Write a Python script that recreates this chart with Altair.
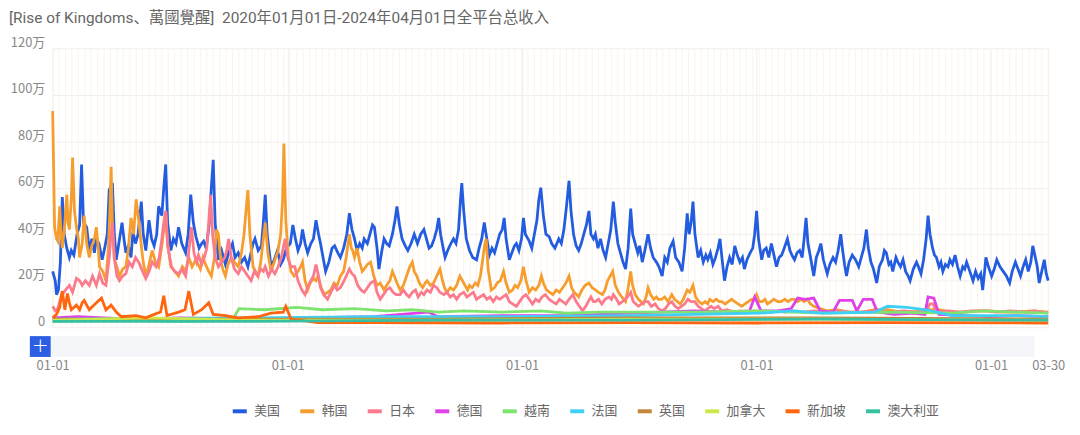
import altair as alt
import pandas as pd

FONT = "Noto Sans CJK SC"
TITLE_FONT = "Roboto, 'Noto Sans CJK SC'"

countries = ["美国", "韩国", "日本", "德国", "越南", "法国", "英国", "加拿大", "新加坡", "澳大利亚"]
colors = ["#245ce0", "#f59e2f", "#fb7a8c", "#e040e8", "#7fe36f",
          "#3fd0f5", "#c4843a", "#cbe84b", "#ff640e", "#36bfa0"]

# day offsets from 2020-01-01 and daily revenue in 万
us_days = [0, 4, 6, 9, 12, 15, 18, 22, 26, 29, 33, 38, 42, 45, 48, 53, 57, 61, 65, 68,
           72, 77, 81, 85, 88, 93, 96, 99, 103, 108, 111, 114, 118, 122, 125, 129, 133, 138, 141, 145,
           150, 154, 158, 162, 165, 170, 173, 176, 179, 184, 188, 192, 196, 201, 207, 211, 215, 219, 223, 228,
           232, 235, 239, 244, 247, 250, 253, 258, 263, 269, 274, 280, 284, 289, 294, 299, 304, 308, 312, 315,
           320, 325, 328, 331, 334, 340, 345, 350, 355, 359, 364, 370, 374, 378, 382, 386, 389, 393, 397, 402,
           406, 410, 414, 417, 421, 425, 430, 435, 439, 444, 448, 453, 458, 462, 466, 470, 474, 478, 482, 485,
           490, 494, 498, 501, 505, 508, 512, 516, 520, 524, 529, 533, 536, 540, 544, 549, 553, 558, 563, 568,
           573, 578, 582, 586, 590, 594, 598, 601, 604, 608, 611, 615, 620, 624, 628, 632, 635, 637, 640, 644,
           649, 654, 660, 664, 668, 672, 676, 680, 684, 688, 692, 696, 700, 703, 706, 711, 715, 719, 722, 726,
           730, 733, 736, 742, 746, 750, 754, 757, 760, 764, 768, 773, 777, 782, 788, 792, 796, 800, 804, 807,
           811, 815, 819, 823, 827, 831, 835, 838, 842, 845, 849, 853, 857, 861, 865, 869, 873, 876, 880, 884,
           888, 892, 896, 900, 903, 907, 911, 914, 918, 922, 927, 931, 935, 940, 944, 949, 953, 957, 961, 966,
           970, 975, 980, 984, 988, 991, 994, 997, 1000, 1005, 1009, 1013, 1017, 1020, 1024, 1028, 1032, 1036, 1039, 1042,
           1046, 1050, 1054, 1058, 1062, 1066, 1070, 1074, 1077, 1081, 1086, 1090, 1093, 1096, 1099, 1104, 1107, 1111, 1115, 1119,
           1123, 1127, 1131, 1135, 1139, 1144, 1148, 1151, 1155, 1159, 1163, 1167, 1170, 1173, 1176, 1180, 1185, 1189, 1193, 1196,
           1200, 1203, 1206, 1210, 1215, 1219, 1223, 1227, 1230, 1233, 1236, 1240, 1245, 1250, 1255, 1259, 1263, 1267, 1270, 1274,
           1278, 1283, 1287, 1292, 1295, 1298, 1302, 1305, 1308, 1313, 1316, 1320, 1324, 1328, 1332, 1335, 1340, 1345, 1348, 1352,
           1356, 1360, 1363, 1366, 1370, 1373, 1376, 1380, 1383, 1386, 1390, 1394, 1397, 1401, 1405, 1409, 1413, 1417, 1420, 1423,
           1428, 1433, 1437, 1441, 1445, 1448, 1451, 1453, 1457, 1462, 1466, 1470, 1475, 1480, 1485, 1490, 1494, 1499, 1503, 1507,
           1511, 1515, 1519, 1523, 1526, 1530, 1533, 1536, 1540, 1544, 1547, 1550]
us_vals = [24, 20, 14, 16, 28, 56, 40, 34, 30, 33, 31, 40, 44, 70, 45, 43, 33, 38, 32, 38,
           36, 29, 34, 40, 59, 62, 40, 29, 36, 45, 38, 32, 35, 30, 41, 36, 40, 54, 40, 33,
           46, 38, 35, 40, 52, 48, 60, 70, 45, 33, 38, 36, 43, 36, 32, 40, 57, 45, 39, 34,
           36, 37, 34, 45, 60, 72, 45, 29, 33, 27, 32, 36, 30, 32, 28, 30, 26, 31, 36, 38,
           33, 35, 45, 57, 40, 26, 29, 33, 27, 29, 34, 36, 44, 38, 33, 36, 42, 36, 32, 36,
           38, 46, 40, 36, 30, 24, 28, 34, 35, 32, 30, 34, 40, 49, 42, 38, 33, 36, 34, 38,
           36, 40, 44, 43, 34, 25, 32, 38, 36, 35, 40, 46, 52, 44, 38, 35, 33, 36, 40, 36,
           40, 42, 38, 34, 35, 38, 42, 47, 40, 34, 30, 33, 36, 38, 36, 42, 55, 62, 50, 38,
           33, 30, 29, 34, 38, 45, 38, 31, 34, 32, 36, 40, 42, 47, 38, 29, 32, 35, 36, 33,
           38, 47, 40, 37, 34, 40, 46, 55, 60, 48, 40, 39, 36, 34, 38, 36, 42, 52, 63, 50,
           40, 35, 33, 36, 40, 44, 50, 40, 38, 40, 34, 38, 33, 30, 36, 42, 54, 45, 36, 32,
           28, 25, 34, 51, 40, 36, 32, 35, 28, 33, 40, 34, 30, 28, 26, 22, 30, 28, 34, 37,
           30, 28, 24, 34, 49, 40, 45, 54, 40, 30, 33, 28, 31, 29, 32, 27, 30, 34, 38, 30,
           20, 26, 30, 27, 35, 31, 28, 30, 25, 29, 32, 34, 40, 50, 38, 29, 33, 34, 30, 36,
           31, 26, 30, 31, 34, 38, 33, 31, 29, 32, 33, 30, 38, 47, 36, 30, 22, 30, 33, 36,
           29, 26, 23, 27, 30, 28, 33, 40, 33, 27, 22, 28, 31, 29, 26, 30, 34, 42, 34, 28,
           25, 19, 26, 29, 33, 32, 27, 28, 24, 30, 28, 26, 29, 24, 22, 20, 25, 28, 26, 23,
           29, 38, 48, 40, 34, 31, 30, 26, 28, 24, 27, 26, 29, 27, 31, 26, 22, 26, 25, 28,
           24, 20, 24, 21, 23, 16, 24, 30, 26, 22, 25, 29, 26, 24, 22, 19, 24, 28, 25, 22,
           26, 29, 24, 28, 35, 30, 26, 19, 24, 29, 23, 20]

kr_days = [0, 3, 6, 8, 11, 13, 15, 19, 22, 24, 26, 29, 31, 34, 37, 40, 42, 46, 49, 53,
           57, 61, 65, 68, 71, 73, 78, 83, 87, 89, 91, 93, 96, 100, 104, 109, 114, 118, 122, 126,
           130, 134, 138, 141, 145, 150, 155, 160, 165, 170, 173, 176, 179, 184, 190, 196, 202, 207, 212, 217,
           223, 230, 234, 238, 243, 247, 252, 255, 258, 262, 266, 269, 273, 278, 283, 289, 294, 298, 301, 304,
           307, 312, 316, 320, 324, 328, 331, 335, 340, 345, 351, 355, 358, 360, 363, 367, 371, 376, 382, 386,
           389, 393, 397, 401, 406, 410, 413, 418, 423, 428, 433, 438, 443, 448, 453, 457, 460, 462, 465, 467,
           470, 474, 478, 482, 485, 490, 495, 500, 505, 510, 516, 520, 525, 529, 532, 536, 541, 546, 551, 556,
           560, 563, 567, 571, 576, 580, 583, 588, 593, 598, 603, 607, 610, 614, 619, 624, 629, 634, 638, 642,
           646, 649, 653, 658, 662, 666, 670, 673, 675, 678, 683, 688, 692, 697, 702, 706, 711, 716, 720, 724,
           729, 733, 737, 742, 747, 752, 757, 761, 764, 769, 774, 779, 784, 789, 794, 799, 804, 808, 812, 816,
           819, 824, 829, 835, 840, 845, 850, 856, 860, 864, 868, 872, 876, 881, 886, 892, 896, 900, 903, 907,
           912, 916, 920, 924, 927, 931, 936, 940, 943, 948, 953, 958, 964, 968, 973, 977, 982, 985, 988, 992,
           997, 1001, 1006, 1011, 1016, 1020, 1023, 1028, 1033, 1038, 1042, 1047, 1052, 1057, 1062, 1067, 1073, 1078, 1083, 1088,
           1092, 1096, 1100, 1105, 1109, 1113, 1118, 1123, 1129, 1134, 1140, 1145, 1150, 1155, 1160, 1165, 1170, 1175, 1180, 1185,
           1195, 1205, 1220, 1240, 1260, 1280, 1300, 1320, 1340, 1360, 1380, 1400, 1420, 1440, 1460, 1480, 1500, 1525, 1550]
kr_vals = [93, 43, 38, 37, 52, 40, 34, 45, 57, 45, 42, 55, 73, 50, 43, 38, 30, 36, 48, 36,
           30, 35, 38, 43, 34, 26, 24, 20, 35, 50, 69, 45, 29, 26, 22, 25, 26, 34, 47, 40,
           55, 46, 35, 28, 22, 27, 33, 28, 26, 35, 42, 50, 36, 26, 24, 22, 26, 24, 30, 26,
           29, 25, 30, 27, 24, 22, 30, 42, 40, 28, 24, 22, 27, 30, 28, 26, 32, 40, 50, 59,
           40, 26, 24, 22, 28, 38, 45, 32, 24, 28, 33, 40, 55, 79, 46, 30, 24, 22, 24, 26,
           28, 20, 16, 19, 21, 20, 22, 17, 14, 15, 16, 19, 18, 22, 24, 30, 36, 40, 34, 33,
           30, 34, 28, 24, 25, 27, 28, 22, 18, 19, 16, 18, 20, 24, 22, 19, 16, 18, 22, 26,
           28, 24, 22, 19, 17, 19, 20, 18, 19, 22, 25, 20, 17, 15, 17, 16, 18, 22, 20, 18,
           16, 18, 17, 19, 18, 22, 30, 36, 38, 25, 16, 17, 19, 20, 24, 19, 15, 16, 18, 17,
           20, 26, 20, 15, 17, 16, 18, 22, 19, 16, 15, 14, 16, 15, 17, 19, 22, 17, 15, 14,
           13, 16, 18, 19, 17, 16, 15, 14, 16, 20, 22, 24, 18, 15, 13, 11, 17, 24, 18, 14,
           12, 11, 10, 13, 17, 14, 12, 13, 12, 12, 13, 11, 14, 12, 11, 10, 12, 14, 16, 15,
           18, 13, 11, 10, 11, 10, 12, 11, 12, 11, 11, 10, 11, 12, 11, 10, 9, 10, 11, 12,
           12, 14, 11, 11, 12, 10, 11, 12, 11, 11, 12, 11, 12, 12, 11, 12, 11, 12, 10, 9,
           8, 7, 7.5, 6.5, 6.5, 7.5, 7.5, 6.5, 6.5, 7.5, 7.5, 6.5, 6.5, 7, 7, 6.5, 6.5, 7, 6.5]

jp_days = [0, 4, 8, 12, 15, 20, 26, 31, 37, 42, 46, 51, 57, 62, 68, 73, 78, 83, 88, 91,
           93, 96, 100, 104, 109, 114, 119, 124, 129, 134, 140, 145, 150, 155, 161, 166, 170, 173, 176, 179,
           185, 190, 196, 201, 207, 211, 214, 216, 220, 224, 227, 232, 236, 240, 243, 246, 249, 253, 258, 263,
           268, 271, 274, 278, 283, 289, 294, 299, 304, 309, 314, 319, 324, 328, 331, 336, 341, 346, 351, 356,
           359, 362, 366, 371, 377, 382, 388, 393, 398, 402, 406, 410, 414, 417, 422, 428, 433, 439, 443, 448,
           452, 457, 462, 466, 470, 475, 480, 485, 490, 495, 501, 505, 510, 515, 520, 525, 530, 535, 541, 546,
           551, 555, 560, 565, 569, 574, 578, 583, 588, 593, 598, 603, 609, 614, 619, 624, 629, 634, 640, 645,
           650, 655, 660, 665, 671, 676, 681, 686, 691, 696, 701, 706, 711, 716, 722, 727, 732, 737, 742, 747,
           752, 757, 762, 767, 773, 778, 784, 789, 794, 799, 804, 810, 815, 820, 825, 830, 834, 838, 842, 845,
           850, 855, 860, 866, 870, 873, 878, 882, 887, 891, 895, 900, 904, 908, 912, 917, 922, 927, 932, 938,
           943, 949, 954, 959, 964, 969, 974, 979, 984, 989, 994, 1000, 1005, 1010, 1015, 1020, 1025, 1030, 1036, 1042,
           1050, 1062, 1070, 1080, 1093, 1105, 1119, 1130, 1140, 1155, 1170, 1185, 1206, 1225, 1240, 1258, 1275, 1290, 1309, 1325,
           1345, 1360, 1366, 1371, 1376, 1395, 1413, 1430, 1453, 1470, 1490, 1515, 1530, 1550]
jp_vals = [9, 7, 8, 12, 14, 16, 18, 15, 21, 20, 18, 20, 18, 22, 18, 23, 19, 18, 30, 40,
           45, 30, 22, 20, 22, 23, 28, 26, 30, 28, 24, 21, 24, 28, 26, 30, 38, 45, 50, 35,
           26, 24, 23, 25, 22, 30, 38, 43, 32, 28, 31, 27, 30, 34, 45, 57, 40, 30, 26, 28,
           30, 33, 38, 30, 25, 23, 26, 24, 22, 20, 24, 22, 25, 24, 26, 22, 25, 23, 26, 30,
           34, 38, 30, 26, 26, 20, 16, 14, 18, 20, 22, 27, 22, 17, 14, 12, 15, 18, 16, 17,
           19, 22, 25, 23, 22, 18, 16, 15, 17, 19, 20, 15, 12, 14, 16, 17, 15, 14, 14, 16,
           14, 13, 15, 16, 13, 15, 14, 16, 15, 18, 17, 15, 14, 15, 13, 14, 12, 14, 15, 13,
           14, 15, 12, 13, 14, 12, 13, 11, 13, 12, 13, 14, 11, 10, 9, 11, 13, 14, 12, 10,
           12, 11, 13, 14, 12, 11, 10, 12, 11, 10, 12, 14, 11, 9, 7, 9, 11, 13, 11, 11,
           12, 10, 12, 13, 12, 14, 12, 10, 11, 12, 13, 15, 11, 10, 9, 10, 11, 11, 9, 10,
           8, 7, 8, 10, 11, 9, 8, 9, 10, 12, 11, 11, 9, 8, 7, 8, 9, 8, 9, 7,
           7.5, 6.5, 7, 6.5, 7, 6.5, 6.5, 7, 6.5, 7, 6.5, 7, 6.5, 7, 6.5, 6.5, 7, 6.5, 6.5, 7,
           6.5, 7, 10, 10, 6.5, 7, 6.5, 7, 7, 6.5, 7, 6.5, 7, 6]

de_days = [0, 40, 120, 200, 300, 400, 500, 585, 600, 700, 800, 900, 1000, 1050, 1085, 1093, 1103, 1130, 1150, 1160,
           1172, 1185, 1195, 1215, 1225, 1245, 1252, 1262, 1276, 1284, 1310, 1340, 1358, 1363, 1372, 1380, 1420, 1460, 1500, 1550]
de_vals = [4, 4.5, 3.5, 4, 3.5, 4, 4.5, 6.5, 4.5, 5, 5, 6, 7, 6.5, 7, 13, 7, 7, 8, 12.5,
           12, 12.5, 7, 6.5, 11.5, 11.5, 7, 12, 12, 6.5, 5.5, 6, 5.5, 13, 12.5, 5.5, 5, 4.5, 5, 4.5]

vn_days = [0, 100, 200, 280, 290, 330, 380, 420, 470, 520, 560, 600, 640, 700, 760, 800, 850, 900, 1000, 1100,
           1200, 1300, 1400, 1450, 1500, 1550]
vn_vals = [2.5, 3, 2.5, 3, 8, 7.5, 8.5, 7.5, 8, 7, 7.5, 6.5, 7, 6.5, 7, 6, 6.5, 6.5, 6.5, 7,
           6, 6.5, 6, 7, 6.5, 6]

fr_days = [0, 300, 500, 700, 900, 1000, 1100, 1150, 1200, 1280, 1300, 1330, 1360, 1400, 1500, 1550]
fr_vals = [3.5, 4, 4.5, 4.5, 5, 5.5, 6, 7, 6, 6.5, 9, 8.5, 7.5, 5, 5, 4.5]

gb_days = [0, 300, 600, 900, 1200, 1550]
gb_vals = [3.5, 3.5, 3.5, 4, 4, 3.5]

ca_days = [0, 150, 300, 600, 900, 1200, 1550]
ca_vals = [3, 4, 3, 3, 3.5, 3.5, 3]

sg_days = [0, 6, 11, 14, 15, 19, 23, 26, 29, 37, 42, 46, 49, 57, 68, 76, 83, 91, 99, 107,
           130, 145, 158, 168, 173, 178, 196, 206, 212, 219, 232, 243, 250, 269, 289, 320, 340, 359, 363, 371,
           413, 500, 700, 900, 1100, 1300, 1550]
sg_vals = [4, 5.5, 8.5, 14.5, 15.5, 7.5, 14.5, 10.5, 7.5, 9.5, 7.5, 10.5, 11.5, 7.5, 10.5, 12.5, 7.5, 9.5, 6.5, 4.5,
           5, 4, 5.5, 6.5, 13.5, 5, 6.5, 7.5, 15.5, 5.5, 7.5, 10.5, 5.5, 5, 4, 4.5, 6, 6.5, 9, 3.5,
           2, 2, 1.8, 2, 1.8, 2, 1.8]

au_days = [0, 300, 600, 900, 1200, 1550]
au_vals = [2.5, 2.5, 3, 3, 3.5, 3]

y_ticks = [0, 20, 40, 60, 80, 100, 120]
title_text = "[Rise of Kingdoms、萬國覺醒]\u00a0\u00a02020年01月01日-2024年04月01日全平台总收入"

start = pd.Timestamp("2020-01-01")
series = [
    ("美国", us_days, us_vals), ("韩国", kr_days, kr_vals), ("日本", jp_days, jp_vals),
    ("德国", de_days, de_vals), ("越南", vn_days, vn_vals), ("法国", fr_days, fr_vals),
    ("英国", gb_days, gb_vals), ("加拿大", ca_days, ca_vals), ("新加坡", sg_days, sg_vals),
    ("澳大利亚", au_days, au_vals),
]
frames = []
for i, (name, days, vals) in enumerate(series):
    frames.append(pd.DataFrame({
        "country": name,
        "idx": i,
        "date": [(start + pd.Timedelta(days=d)).strftime("%Y-%m-%d") for d in days],
        "value": vals,
    }))
df = pd.concat(frames, ignore_index=True)

stripe_df = pd.DataFrame({"date": pd.date_range("2020-01-01", "2024-03-30", freq="10D").strftime("%Y-%m-%d")})
one = pd.DataFrame({"a": [0]})

x_domain = [alt.DateTime(year=2020, month=1, date=1, utc=True),
            alt.DateTime(year=2024, month=3, date=30, utc=True)]
x_values = [alt.DateTime(year=y, month=1, date=1, utc=True) for y in [2020, 2021, 2022, 2023, 2024]] + \
           [alt.DateTime(year=2024, month=3, date=30, utc=True)]

x_scale = alt.Scale(type="utc", domain=x_domain)
x_axis = alt.Axis(values=x_values, format="%m-%d", labelFlush=False, grid=True, gridColor="#eeeeee",
                  domain=False, ticks=False, labelPadding=33, labelColor="#888888", labelFontSize=13,
                  labelFont=FONT, title=None)

stripes = alt.Chart(stripe_df).mark_rule(color="#fdf4e6", strokeWidth=1).encode(
    x=alt.X("date:T", scale=x_scale, axis=x_axis)
)

lines = alt.Chart(df).mark_line(strokeWidth=2.8, interpolate="linear").encode(
    x=alt.X("date:T", scale=x_scale, axis=x_axis),
    y=alt.Y("value:Q", scale=alt.Scale(domain=[0, 120], nice=False),
            axis=alt.Axis(values=y_ticks, labelExpr="datum.value == 0 ? '0' : datum.value + '万'",
                          grid=True, gridColor="#eeeeee", domain=False, ticks=False,
                          labelPadding=8, labelBaseline="bottom", labelOffset=1, labelColor="#888888",
                          labelFontSize=13, labelFont=FONT, title=None)),
    color=alt.Color("country:N", scale=alt.Scale(domain=countries, range=colors),
                    legend=alt.Legend(orient="none", legendX=179, legendY=356, direction="horizontal",
                                      title=None, symbolType="stroke", symbolStrokeWidth=4,
                                      symbolSize=200, labelFontSize=13, labelColor="#666666",
                                      labelFont=FONT, columnPadding=11, labelOffset=5, padding=0)),
    detail="idx:O",
)

title = alt.Chart(one).mark_text(align="left", baseline="middle", fontSize=15.5, color="#666666",
                                 font=TITLE_FONT).encode(
    x=alt.value(-44), y=alt.value(-30), text=alt.value(title_text)
)

slider = alt.Chart(one).mark_rect(color="#f3f5f8").encode(
    x=alt.value(-2), x2=alt.value(989), y=alt.value(290), y2=alt.value(311)
)
button = alt.Chart(one).mark_rect(color="#2b5ee2").encode(
    x=alt.value(-23), x2=alt.value(-2), y=alt.value(290), y2=alt.value(311)
)
plus = alt.Chart(one).mark_text(color="white", fontSize=20, align="center", baseline="middle",
                                font="DejaVu Sans", fontWeight=300).encode(
    x=alt.value(-12.5), y=alt.value(300), text=alt.value("+")
)

chart = alt.layer(stripes, lines, title, slider, button, plus).properties(
    width=1003, height=281,
    autosize=alt.AutoSizeParams(type="none"),
    padding={"left": 45, "top": 39, "right": 24, "bottom": 100},
).configure_view(stroke=None)

chart.save("out.html", embed_options={"renderer": "svg", "actions": False})
